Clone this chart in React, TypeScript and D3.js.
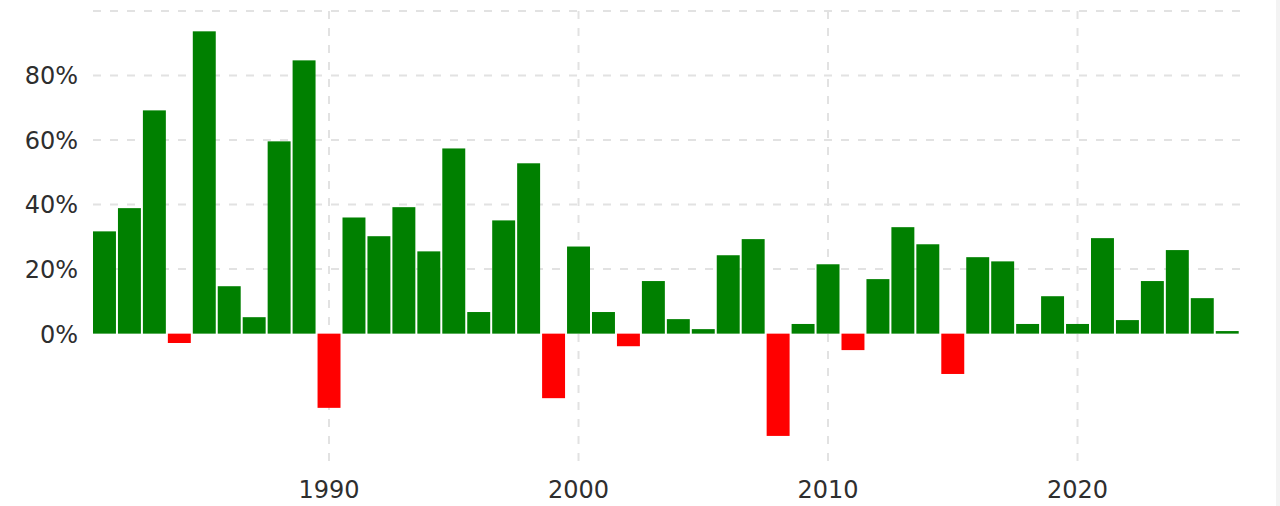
import * as d3 from "d3";

const years = d3.range(1981, 2027);
const changes = [
  31.7, 38.9, 69.2, -2.9, 93.7, 14.7, 5.1, 59.6, 84.7, -23,
  36, 30.2, 39.2, 25.5, 57.4, 6.7, 35.1, 52.8, -20, 27,
  6.7, -3.9, 16.3, 4.5, 1.4, 24.3, 29.3, -31.7, 3, 21.5,
  -5.1, 16.9, 33, 27.7, -12.5, 23.7, 22.4, 3, 11.6, 3,
  29.6, 4.2, 16.3, 25.9, 11, 0.8,
];
const yTicks = [0, 20, 40, 60, 80];
const yGrid = [20, 40, 60, 80, 100];
const xTicks = [1990, 2000, 2010, 2020];

const WIDTH = 1280;
const HEIGHT = 506;
const INK = "#2e2e2e";
const GRID = "#e2e2e2";

const x = d3.scaleBand<number>().domain(years).range([92, 1239.7]).paddingInner(0.08).paddingOuter(0.04);
const y = d3.scaleLinear().domain([-40, 100]).range([462.7, 11]);
const xCenter = (yr: number) => (x(yr) ?? 0) + x.bandwidth() / 2;

export default function App() {
  return (
    <svg
      width={WIDTH}
      height={HEIGHT}
      viewBox={`0 0 ${WIDTH} ${HEIGHT}`}
      style={{ position: "absolute", left: 0, top: 0, background: "#fff" }}
      fontFamily="'DejaVu Sans', Verdana, sans-serif"
    >
      {/* pale strip down the right edge of the screenshot */}
      <rect x={1276} y={0} width={4} height={HEIGHT} fill="#f3f3f3" />

      {yGrid.map((t) => (
        <line key={t} x1={93} x2={1240} y1={y(t)} y2={y(t)} stroke={GRID} strokeWidth={2} strokeDasharray="8 9" />
      ))}
      {xTicks.map((t) => (
        <line key={t} x1={xCenter(t)} x2={xCenter(t)} y1={y(100)} y2={y(-40)} stroke={GRID} strokeWidth={2} strokeDasharray="8 9" />
      ))}

      {years.map((yr, i) => {
        const v = changes[i];
        return (
          <rect
            key={yr}
            x={x(yr)}
            width={x.bandwidth()}
            y={y(Math.max(v, 0))}
            height={Math.abs(y(v) - y(0))}
            fill={v < 0 ? "#ff0000" : "#008000"}
          />
        );
      })}

      {yTicks.map((t) => (
        <text key={t} x={78} y={y(t)} dy="0.37em" textAnchor="end" fontSize={24} fill={INK}>
          {t}%
        </text>
      ))}
      {xTicks.map((t) => (
        <text key={t} x={xCenter(t)} y={498} textAnchor="middle" fontSize={24} fill={INK}>
          {t}
        </text>
      ))}
    </svg>
  );
}
